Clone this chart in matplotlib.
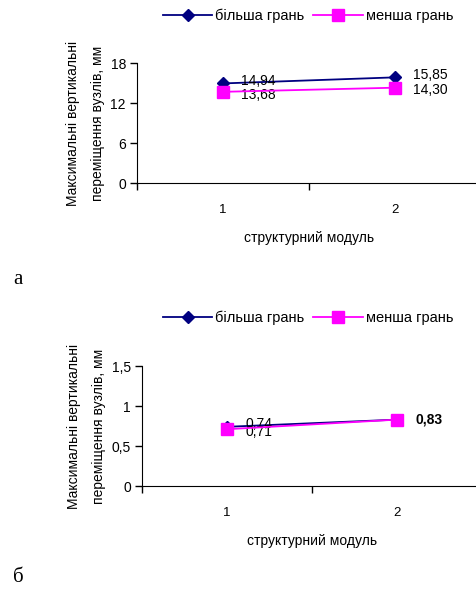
"""
two line charts: max vertical node displacements per structural module
"""

import matplotlib.pyplot as plt
from matplotlib.ticker import FixedLocator, NullFormatter, FixedFormatter

plt.rcParams['font.family'] = ['Liberation Sans', 'DejaVu Sans']

# data
modules = ['1', '2']
bigger_a = [14.94, 15.85]
smaller_a = [13.68, 14.30]
bigger_b = [0.74, 0.83]
smaller_b = [0.71, 0.83]
labels_a_big = ['14,94', '15,85']
labels_a_small = ['13,68', '14,30']
labels_b_big = ['0,74', '']
labels_b_small = ['0,71', '0,83']
yticks_a = [0, 6, 12, 18]
yticks_b = [0, 0.5, 1, 1.5]
yticklabels_b = ['0', '0,5', '1', '1,5']

navy = '#000080'
pink = '#FF00FF'

fig = plt.figure(figsize=(4.76, 5.94), dpi=100)

def panel(rect, big, small, lab_big, lab_small, yt, ytl, ymax, bold_idx, leg_y, letter, letter_y):
    ax = fig.add_axes(rect)
    xs = [0.5, 1.5]
    ax.plot(xs, big, color=navy, marker='D', markersize=6, lw=1.3, clip_on=False, label='більша грань', zorder=3)
    ax.plot(xs, small, color=pink, marker='s', markersize=9, lw=1.3, clip_on=False, label='менша грань', zorder=4)
    for i, x in enumerate(xs):
        if lab_big[i]:
            ax.annotate(lab_big[i], (x, big[i]), xytext=(13, 2), textcoords='offset points',
                        va='center', ha='left', fontsize=10)
        if lab_small[i]:
            w = 'bold' if i == bold_idx else 'normal'
            dy = 0 if i == bold_idx else -2
            ax.annotate(lab_small[i], (x, small[i]), xytext=(13, dy), textcoords='offset points',
                        va='center', ha='left', fontsize=10, fontweight=w)
    ax.set_xlim(0, 2)
    ax.set_ylim(0, ymax)
    ax.spines['top'].set_visible(False)
    ax.spines['right'].set_visible(False)
    ax.xaxis.set_major_locator(FixedLocator([0, 1, 2]))
    ax.xaxis.set_major_formatter(NullFormatter())
    ax.xaxis.set_minor_locator(FixedLocator(xs))
    ax.xaxis.set_minor_formatter(FixedFormatter(modules))
    ax.tick_params(axis='x', which='major', direction='out', length=5, width=1)
    ax.tick_params(axis='x', which='minor', length=0, pad=15, labelsize=9.5)
    ax.set_yticks(yt)
    ax.set_yticklabels(ytl)
    ax.tick_params(axis='y', direction='out', length=5, width=1, labelsize=10, pad=3)
    ax.set_xlabel('структурний модуль', fontsize=10, labelpad=11)
    ax.set_ylabel('Максимальні вертикальні\nпереміщення вузлів, мм', fontsize=10, labelpad=4, linespacing=2.0)
    ax.legend(loc='center', bbox_to_anchor=(0.647, leg_y), bbox_transform=fig.transFigure,
              ncol=2, frameon=False, fontsize=10.5, handlelength=3.4, columnspacing=0.6, handletextpad=0.2)
    fig.text(0.028, letter_y, letter, fontsize=15, family='Liberation Serif', va='center')
    return ax

panel([0.2878, 0.6919, 0.7227, 0.2020], bigger_a, smaller_a, labels_a_big, labels_a_small,
      yticks_a, [str(v) for v in yticks_a], 18, -1, 1 - 16 / 594, 'а', 1 - 279 / 594)
panel([0.2983, 0.1818, 0.7143, 0.2020], bigger_b, smaller_b, labels_b_big, labels_b_small,
      yticks_b, yticklabels_b, 1.5, 1, 1 - 318 / 594, 'б', 1 - 578 / 594)

plt.savefig('out.png', dpi=100)
